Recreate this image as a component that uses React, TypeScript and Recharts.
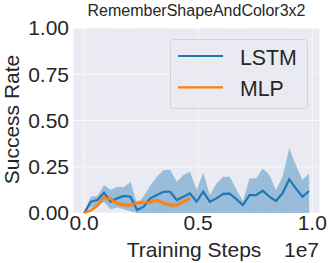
import React from 'react';
import { ComposedChart, Area, Line, XAxis, YAxis, CartesianGrid, Legend } from 'recharts';

// Training steps in units of 1e7
const stepsE7 = [0, 0.029, 0.058, 0.087, 0.116, 0.145, 0.174, 0.203, 0.232, 0.261, 0.29, 0.319, 0.348, 0.377, 0.406, 0.435, 0.464, 0.493, 0.522, 0.551, 0.58, 0.609, 0.638, 0.667, 0.696, 0.725, 0.754, 0.783, 0.812, 0.841, 0.87, 0.899, 0.928, 0.957, 0.986];

const lstmMean = [0, 0.061, 0.07, 0.11, 0.061, 0.079, 0.092, 0.088, 0.016, 0.034, 0.079, 0.097, 0.115, 0.115, 0.07, 0.088, 0.106, 0.061, 0.115, 0.061, 0.079, 0.103, 0.105, 0.075, 0.043, 0.097, 0.097, 0.121, 0.088, 0.065, 0.107, 0.182, 0.133, 0.088, 0.119];
const lstmUpper = [0, 0.088, 0.092, 0.151, 0.124, 0.142, 0.139, 0.169, 0.05, 0.09, 0.15, 0.196, 0.232, 0.232, 0.169, 0.205, 0.223, 0.124, 0.218, 0.097, 0.16, 0.196, 0.196, 0.13, 0.065, 0.187, 0.187, 0.241, 0.205, 0.124, 0.196, 0.35, 0.26, 0.178, 0.214];
const lstmLower = [0, 0.03, 0.04, 0.06, 0.02, 0.03, 0.02, 0.01, 0, 0, 0, 0, 0, 0, 0, 0, 0, 0, 0, 0, 0, 0, 0, 0, 0, 0, 0, 0, 0, 0, 0, 0, 0, 0, 0];

const mlpMean = [0, 0.014, 0.04, 0.085, 0.074, 0.052, 0.043, 0.043, 0.056, 0.056, 0.059, 0.07, 0.052, 0.043, 0.043, 0.061, 0.079];
const mlpUpper = [0, 0.024, 0.055, 0.1, 0.09, 0.065, 0.055, 0.056, 0.068, 0.068, 0.072, 0.082, 0.064, 0.056, 0.057, 0.075, 0.095];
const mlpLower = [0, 0.006, 0.027, 0.07, 0.058, 0.04, 0.031, 0.03, 0.044, 0.044, 0.046, 0.058, 0.04, 0.03, 0.029, 0.047, 0.063];

const xTicks = [0, 0.5, 1.0];
const yTicks = [0, 0.25, 0.5, 0.75, 1.0];
const seriesNames = ['LSTM', 'MLP'];
const seriesColors = ['#1f77b4', '#ff7f0e'];

const data = stepsE7.map((s, i) => ({
  step: s,
  lstm: lstmMean[i],
  lstmBand: [lstmLower[i], lstmUpper[i]],
  mlp: i < mlpMean.length ? mlpMean[i] : undefined,
  mlpBand: i < mlpMean.length ? [mlpLower[i], mlpUpper[i]] : undefined,
}));

const FONT = '"Liberation Sans", Arial, sans-serif';
const TEXT = '#262626';

const renderLegend = () => (
  <svg width={140} height={72} style={{ display: 'block' }}>
    <rect x={0.5} y={0.5} width={137} height={69} rx={3} ry={3} fill="#EAEAF2" fillOpacity={0.85} stroke="#d3d3da" strokeWidth={1} />
    {seriesNames.map((n, i) => (
      <g key={n}>
        <line x1={8} x2={53} y1={17 + i * 31.3} y2={17 + i * 31.3} stroke={seriesColors[i]} strokeWidth={2.2} />
        <text x={70} y={25.8 + i * 31.4} fontSize={21.3} fontFamily={FONT} fill={TEXT}>{n}</text>
      </g>
    ))}
  </svg>
);

export default function App() {
  return (
    <div style={{ position: 'fixed', left: 0, top: 0, width: 333, height: 263, background: '#ffffff' }}>
      <ComposedChart width={333} height={263} data={data} margin={{ top: 28, right: 13, bottom: 0, left: 0 }}>
        <CartesianGrid stroke="#ffffff" strokeDasharray="3 1.3" fill="#EAEAF2" strokeWidth={1} />
        <XAxis
          dataKey="step"
          type="number"
          domain={[-0.049, 1.034]}
          allowDataOverflow
          ticks={xTicks}
          tickFormatter={(v: number) => v.toFixed(1)}
          tick={{ fontSize: 21, fill: TEXT, fontFamily: FONT }}
          tickLine={false}
          axisLine={false}
          tickSize={0}
          tickMargin={2}
          height={50}
        />
        <YAxis
          type="number"
          domain={[0, 1]}
          ticks={yTicks}
          tickFormatter={(v: number) => v.toFixed(2)}
          tick={{ fontSize: 21, fill: TEXT, fontFamily: FONT }}
          tickLine={false}
          axisLine={false}
          tickSize={0}
          tickMargin={4}
          width={73}
        />
        <Area type="linear" dataKey="lstmBand" stroke="none" fill="#1f77b4" fillOpacity={0.4} isAnimationActive={false} legendType="none" />
        <Line type="linear" dataKey="lstm" name="LSTM" stroke="#1f77b4" strokeWidth={2.2} dot={false} activeDot={false} isAnimationActive={false} />
        <Area type="linear" dataKey="mlpBand" stroke="none" fill="#ff7f0e" fillOpacity={0.35} isAnimationActive={false} legendType="none" />
        <Line type="linear" dataKey="mlp" name="MLP" stroke="#ff7f0e" strokeWidth={2.4} dot={false} activeDot={false} isAnimationActive={false} />
        <Legend
          layout="horizontal"
          verticalAlign="middle"
          align="center"
          content={renderLegend}
          wrapperStyle={{ position: 'absolute', left: 170, top: 38.5, width: 140, height: 72 }}
        />
      </ComposedChart>
      <svg width={333} height={263} style={{ position: 'absolute', left: 0, top: 0, pointerEvents: 'none' }}>
        <text x={196.5} y={16} textAnchor="middle" fontSize={16} fontFamily={FONT} fill={TEXT}>RememberShapeAndColor3x2</text>
        <text x={194} y={256.7} textAnchor="middle" fontSize={21} fontFamily={FONT} fill={TEXT}>Training Steps</text>
        <text x={319} y={256.5} textAnchor="end" fontSize={21} fontFamily={FONT} fill={TEXT}>1e7</text>
        <text transform="translate(19,119.5) rotate(-90)" x={0} y={0} textAnchor="middle" fontSize={21} fontFamily={FONT} fill={TEXT}>Success Rate</text>
      </svg>
    </div>
  );
}
